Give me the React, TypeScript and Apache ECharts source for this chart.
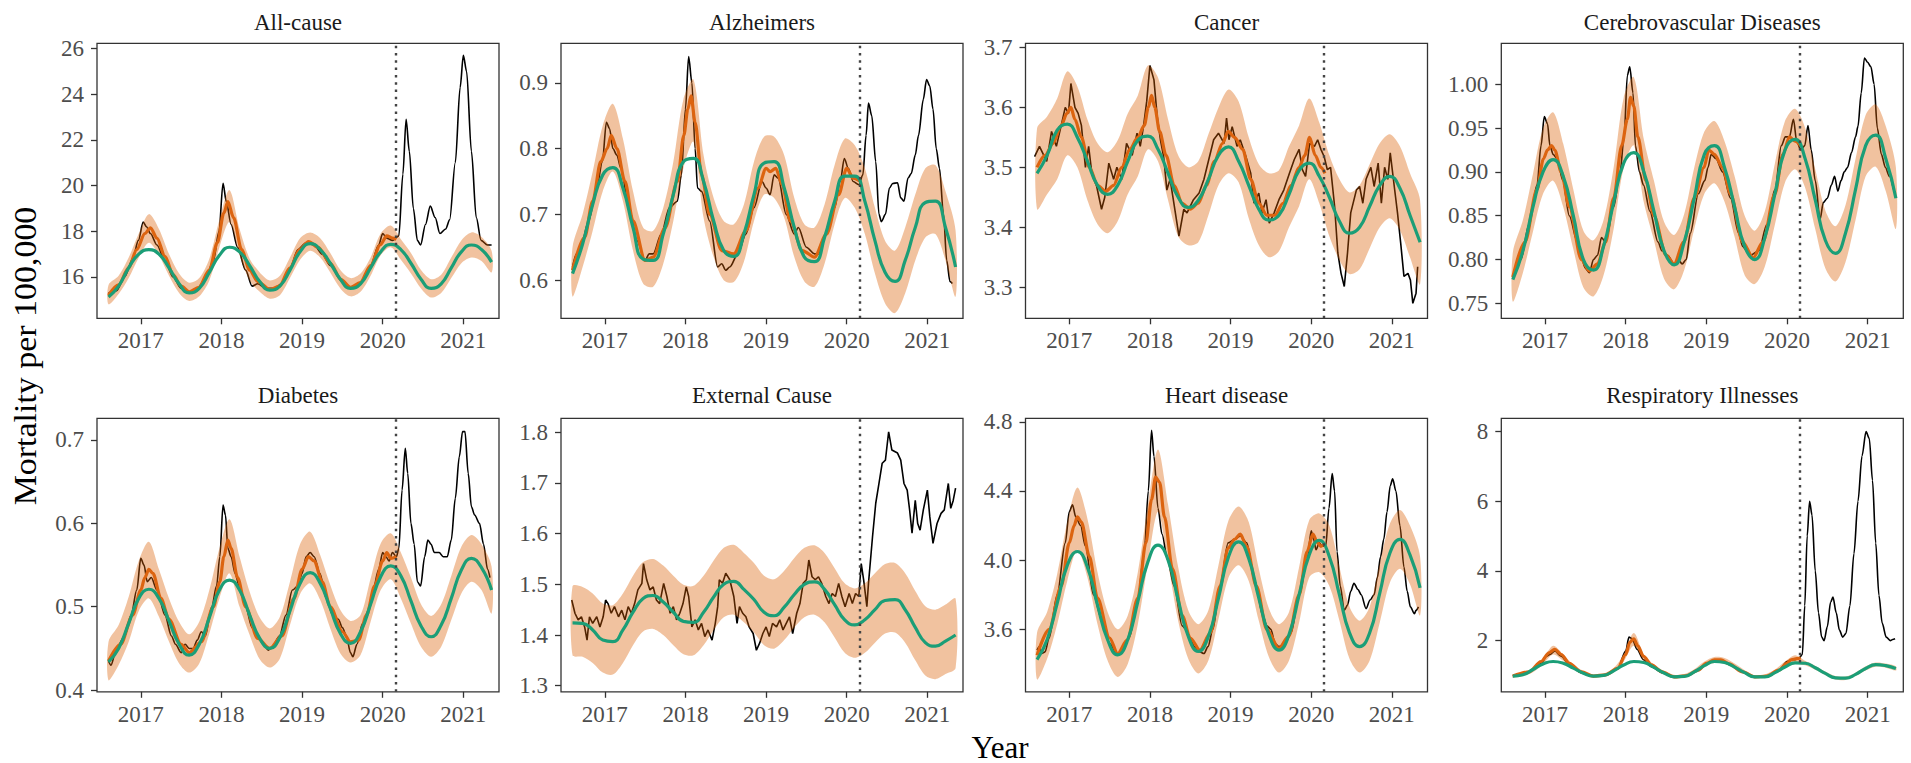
import React, { useEffect, useRef } from 'react';
import * as echarts from 'echarts';

type Pt = [number, number];

// Time grid (decimal years) shared by the seasonal baseline and its interval band
const seasonYears = [
  2016.6, 2016.725, 2016.85, 2016.975, 2017.1, 2017.225, 2017.35, 2017.475, 2017.6, 2017.725,
  2017.85, 2017.975, 2018.1, 2018.225, 2018.35, 2018.475, 2018.6, 2018.725, 2018.85, 2018.975,
  2019.1, 2019.225, 2019.35, 2019.475, 2019.6, 2019.725, 2019.85, 2019.975, 2020.1, 2020.225,
  2020.35, 2020.475, 2020.6, 2020.725, 2020.85, 2020.975, 2021.1, 2021.225, 2021.35,
];
const yearTicks = [2017, 2018, 2019, 2020, 2021];
const pandemicStart = 2020.165;
const yearMin = 2016.457;
const yearMax = 2021.442;

// ---------- All-cause ----------
const allCauseObserved: Pt[] = [
  [2016.6, 15.3], [2016.65, 15.35], [2016.7, 15.4], [2016.8, 16.0], [2016.9, 16.8], [2016.97, 17.6],
  [2017.03, 18.4], [2017.07, 18.2], [2017.12, 17.9], [2017.2, 17.4], [2017.3, 16.7], [2017.4, 16.0],
  [2017.5, 15.5], [2017.6, 15.3], [2017.7, 15.5], [2017.8, 15.9], [2017.9, 16.7], [2017.97, 18.0],
  [2018.02, 20.1], [2018.06, 19.3], [2018.12, 18.3], [2018.2, 17.3], [2018.3, 16.3], [2018.38, 15.6],
  [2018.45, 15.7], [2018.55, 15.5], [2018.65, 15.5], [2018.75, 15.7], [2018.85, 16.4], [2018.95, 17.2],
  [2019.05, 17.5], [2019.15, 17.4], [2019.25, 17.0], [2019.35, 16.5], [2019.5, 15.8], [2019.6, 15.55],
  [2019.72, 15.7], [2019.85, 16.5], [2019.95, 17.4], [2020.0, 17.9], [2020.05, 17.7], [2020.12, 17.6],
  [2020.2, 17.8], [2020.25, 20.5], [2020.29, 22.9], [2020.33, 21.5], [2020.38, 19.0], [2020.43, 17.6],
  [2020.47, 17.4], [2020.53, 18.3], [2020.59, 19.1], [2020.65, 18.6], [2020.71, 17.9], [2020.78, 18.1],
  [2020.83, 18.5], [2020.9, 21.0], [2020.96, 24.3], [2021.0, 25.7], [2021.04, 25.0], [2021.1, 21.5],
  [2021.16, 18.6], [2021.22, 17.6], [2021.3, 17.4], [2021.35, 17.4],
];
const allCauseFitted: Pt[] = [
  [2016.6, 15.2], [2016.725, 15.65], [2016.85, 16.4], [2016.95, 17.2], [2017.05, 17.9], [2017.12, 18.15],
  [2017.2, 17.7], [2017.3, 16.9], [2017.4, 16.1], [2017.5, 15.6], [2017.6, 15.35], [2017.72, 15.55],
  [2017.85, 16.3], [2017.95, 17.5], [2018.03, 18.8], [2018.08, 19.3], [2018.15, 18.6], [2018.25, 17.2],
  [2018.35, 16.3], [2018.45, 15.8], [2018.6, 15.45], [2018.72, 15.6], [2018.85, 16.4], [2018.97, 17.2],
  [2019.08, 17.55], [2019.2, 17.3], [2019.35, 16.6], [2019.48, 15.9], [2019.6, 15.55], [2019.72, 15.75],
  [2019.85, 16.5], [2019.97, 17.4], [2020.05, 17.8], [2020.12, 17.7], [2020.17, 17.65],
];
const allCauseExpected = [
  15.12, 15.6, 16.4, 17.0, 17.2, 17.0, 16.4, 15.7, 15.3, 15.5, 16.2, 16.95, 17.3, 17.1, 16.5, 15.8,
  15.42, 15.6, 16.3, 17.1, 17.46, 17.2, 16.6, 15.9, 15.5, 15.7, 16.4, 17.1, 17.43, 17.2, 16.6, 15.9,
  15.5, 15.7, 16.4, 17.1, 17.4, 17.2, 16.65,
];
const allCauseLower = [
  14.8, 15.25, 15.95, 16.85, 17.5, 16.95, 16.05, 15.3, 14.95, 15.15, 15.85, 17.3, 18.4, 16.95, 15.85,
  15.35, 15.05, 15.2, 15.95, 16.75, 17.15, 16.85, 16.2, 15.5, 15.15, 15.35, 16.05, 16.95, 17.3, 16.75,
  16.15, 15.5, 15.1, 15.3, 15.95, 16.6, 16.85, 16.7, 16.2,
];
const allCauseUpper = [
  15.65, 16.05, 16.85, 17.9, 18.75, 18.1, 17.0, 16.15, 15.75, 15.95, 16.8, 18.5, 19.8, 18.1, 16.8,
  16.2, 15.85, 16.05, 16.85, 17.7, 17.95, 17.7, 17.05, 16.3, 15.95, 16.15, 16.85, 17.9, 18.25, 17.65,
  17.05, 16.3, 15.9, 16.1, 16.85, 17.6, 17.95, 17.75, 17.15,
];
const allCauseTicks = [16, 18, 20, 22, 24, 26];

// ---------- Alzheimers ----------
const alzObserved: Pt[] = [
  [2016.6, 0.62], [2016.65, 0.64], [2016.7, 0.65], [2016.8, 0.69], [2016.9, 0.74], [2016.97, 0.78],
  [2017.02, 0.84], [2017.06, 0.83], [2017.1, 0.8], [2017.15, 0.79], [2017.2, 0.77], [2017.3, 0.71],
  [2017.4, 0.66], [2017.5, 0.63], [2017.55, 0.64], [2017.6, 0.64], [2017.7, 0.67], [2017.8, 0.71],
  [2017.9, 0.72], [2017.95, 0.76], [2018.0, 0.86], [2018.04, 0.94], [2018.08, 0.9], [2018.12, 0.8],
  [2018.15, 0.74], [2018.2, 0.735], [2018.3, 0.69], [2018.4, 0.62], [2018.45, 0.625], [2018.5, 0.615],
  [2018.55, 0.62], [2018.65, 0.64], [2018.75, 0.67], [2018.85, 0.71], [2018.95, 0.75], [2019.0, 0.74],
  [2019.05, 0.73], [2019.1, 0.76], [2019.15, 0.755], [2019.25, 0.7], [2019.35, 0.67], [2019.4, 0.68],
  [2019.5, 0.65], [2019.6, 0.64], [2019.65, 0.64], [2019.75, 0.67], [2019.85, 0.71], [2019.92, 0.75],
  [2019.97, 0.785], [2020.02, 0.77], [2020.08, 0.75], [2020.15, 0.745], [2020.2, 0.76], [2020.24, 0.82],
  [2020.27, 0.869], [2020.31, 0.85], [2020.36, 0.78], [2020.4, 0.7], [2020.43, 0.689], [2020.48, 0.7],
  [2020.53, 0.74], [2020.57, 0.747], [2020.63, 0.748], [2020.67, 0.725], [2020.71, 0.72], [2020.76, 0.755],
  [2020.8, 0.762], [2020.85, 0.79], [2020.89, 0.82], [2020.95, 0.875], [2020.99, 0.905], [2021.03, 0.895],
  [2021.07, 0.86], [2021.11, 0.8], [2021.15, 0.77], [2021.2, 0.7], [2021.24, 0.63], [2021.28, 0.598],
  [2021.31, 0.595],
];
const alzFitted: Pt[] = [
  [2016.6, 0.615], [2016.75, 0.665], [2016.85, 0.72], [2016.95, 0.78], [2017.03, 0.8], [2017.08, 0.82],
  [2017.15, 0.8], [2017.25, 0.75], [2017.35, 0.69], [2017.5, 0.63], [2017.6, 0.635], [2017.75, 0.68],
  [2017.9, 0.75], [2017.98, 0.82], [2018.03, 0.86], [2018.07, 0.88], [2018.12, 0.84], [2018.2, 0.76],
  [2018.3, 0.7], [2018.45, 0.645], [2018.6, 0.64], [2018.75, 0.675], [2018.9, 0.74], [2019.0, 0.77],
  [2019.05, 0.765], [2019.12, 0.77], [2019.2, 0.745], [2019.3, 0.69], [2019.45, 0.645], [2019.6, 0.635],
  [2019.75, 0.67], [2019.9, 0.73], [2020.0, 0.77], [2020.08, 0.755], [2020.17, 0.75],
];
const alzExpected = [
  0.61, 0.655, 0.715, 0.76, 0.771, 0.74, 0.68, 0.632, 0.63, 0.67, 0.73, 0.78, 0.785, 0.75, 0.69,
  0.645, 0.636, 0.67, 0.73, 0.778, 0.78, 0.74, 0.68, 0.635, 0.628, 0.665, 0.72, 0.758, 0.758, 0.72,
  0.66, 0.612, 0.598, 0.63, 0.68, 0.718, 0.72, 0.68, 0.62,
];
const alzLower = [
  0.575, 0.62, 0.675, 0.735, 0.765, 0.72, 0.645, 0.595, 0.59, 0.625, 0.69, 0.77, 0.81, 0.695, 0.635,
  0.6, 0.597, 0.628, 0.69, 0.73, 0.725, 0.695, 0.635, 0.598, 0.59, 0.625, 0.685, 0.725, 0.71, 0.67,
  0.61, 0.565, 0.55, 0.58, 0.63, 0.665, 0.67, 0.63, 0.575,
];
const alzUpper = [
  0.65, 0.7, 0.765, 0.835, 0.868, 0.815, 0.735, 0.68, 0.675, 0.71, 0.78, 0.875, 0.905, 0.79, 0.725,
  0.69, 0.685, 0.715, 0.78, 0.818, 0.818, 0.79, 0.725, 0.685, 0.68, 0.715, 0.775, 0.815, 0.805, 0.77,
  0.71, 0.66, 0.645, 0.68, 0.73, 0.77, 0.775, 0.735, 0.675,
];
const alzTicks = [0.6, 0.7, 0.8, 0.9];

// ---------- Cancer ----------
const cancerObserved: Pt[] = [
  [2016.57, 3.518], [2016.63, 3.535], [2016.72, 3.51], [2016.78, 3.56], [2016.84, 3.535], [2016.9, 3.57],
  [2016.95, 3.6], [2016.99, 3.59], [2017.02, 3.64], [2017.07, 3.6], [2017.11, 3.59], [2017.15, 3.57],
  [2017.2, 3.5], [2017.24, 3.535], [2017.28, 3.49], [2017.34, 3.468], [2017.4, 3.43], [2017.44, 3.45],
  [2017.49, 3.507], [2017.55, 3.48], [2017.59, 3.5], [2017.65, 3.48], [2017.71, 3.54], [2017.78, 3.52],
  [2017.84, 3.557], [2017.88, 3.535], [2017.92, 3.568], [2017.96, 3.61], [2018.0, 3.67], [2018.05, 3.646],
  [2018.09, 3.585], [2018.13, 3.546], [2018.17, 3.518], [2018.21, 3.462], [2018.25, 3.48], [2018.29, 3.446],
  [2018.36, 3.385], [2018.42, 3.43], [2018.46, 3.424], [2018.54, 3.446], [2018.61, 3.457], [2018.67, 3.48],
  [2018.73, 3.513], [2018.79, 3.546], [2018.85, 3.557], [2018.92, 3.54], [2018.95, 3.582], [2018.98, 3.546],
  [2019.02, 3.568], [2019.08, 3.535], [2019.12, 3.546], [2019.19, 3.518], [2019.25, 3.49], [2019.29, 3.44],
  [2019.35, 3.457], [2019.39, 3.424], [2019.44, 3.446], [2019.48, 3.407], [2019.54, 3.424], [2019.6, 3.446],
  [2019.66, 3.462], [2019.73, 3.49], [2019.79, 3.513], [2019.85, 3.53], [2019.89, 3.496], [2019.93, 3.485],
  [2019.98, 3.54], [2020.04, 3.535], [2020.08, 3.546], [2020.12, 3.53], [2020.16, 3.518], [2020.2, 3.496],
  [2020.24, 3.5], [2020.29, 3.435], [2020.33, 3.357], [2020.37, 3.323], [2020.41, 3.301], [2020.45, 3.357],
  [2020.49, 3.424], [2020.56, 3.462], [2020.6, 3.468], [2020.64, 3.44], [2020.68, 3.48], [2020.74, 3.5],
  [2020.78, 3.468], [2020.83, 3.507], [2020.87, 3.44], [2020.91, 3.5], [2020.95, 3.48], [2020.98, 3.524],
  [2021.03, 3.468], [2021.07, 3.424], [2021.11, 3.373], [2021.15, 3.318], [2021.2, 3.323], [2021.23, 3.312],
  [2021.26, 3.273], [2021.3, 3.29], [2021.32, 3.334],
];
const cancerFitted: Pt[] = [
  [2016.6, 3.5], [2016.7, 3.52], [2016.8, 3.54], [2016.9, 3.57], [2016.97, 3.59], [2017.02, 3.6],
  [2017.07, 3.58], [2017.15, 3.55], [2017.25, 3.5], [2017.35, 3.47], [2017.45, 3.46], [2017.55, 3.47],
  [2017.65, 3.5], [2017.75, 3.53], [2017.85, 3.55], [2017.93, 3.57], [2017.98, 3.6], [2018.02, 3.62],
  [2018.06, 3.6], [2018.12, 3.56], [2018.2, 3.52], [2018.3, 3.47], [2018.4, 3.44], [2018.5, 3.43],
  [2018.6, 3.44], [2018.7, 3.47], [2018.8, 3.51], [2018.9, 3.54], [2018.97, 3.56], [2019.05, 3.55],
  [2019.15, 3.53], [2019.25, 3.48], [2019.35, 3.44], [2019.45, 3.42], [2019.55, 3.42], [2019.65, 3.44],
  [2019.75, 3.47], [2019.85, 3.5], [2019.92, 3.52], [2019.98, 3.55], [2020.05, 3.52], [2020.12, 3.5],
  [2020.17, 3.49],
];
const cancerExpected = [
  3.49, 3.52, 3.562, 3.572, 3.55, 3.51, 3.47, 3.455, 3.47, 3.51, 3.545, 3.552, 3.53, 3.49, 3.45,
  3.433, 3.445, 3.48, 3.52, 3.534, 3.51, 3.47, 3.43, 3.412, 3.42, 3.455, 3.495, 3.507, 3.485, 3.45,
  3.41, 3.39, 3.4, 3.435, 3.47, 3.485, 3.465, 3.42, 3.375,
];
const cancerLower = [
  3.43, 3.455, 3.48, 3.52, 3.5, 3.445, 3.405, 3.39, 3.41, 3.455, 3.485, 3.53, 3.51, 3.445, 3.385,
  3.37, 3.375, 3.42, 3.47, 3.49, 3.475, 3.415, 3.37, 3.35, 3.36, 3.4, 3.435, 3.48, 3.44, 3.385,
  3.345, 3.322, 3.33, 3.365, 3.4, 3.415, 3.395, 3.35, 3.305,
];
const cancerUpper = [
  3.565, 3.585, 3.615, 3.66, 3.635, 3.58, 3.54, 3.525, 3.545, 3.59, 3.62, 3.67, 3.65, 3.58, 3.52,
  3.5, 3.51, 3.555, 3.6, 3.63, 3.61, 3.55, 3.505, 3.49, 3.495, 3.535, 3.57, 3.615, 3.575, 3.52,
  3.48, 3.458, 3.47, 3.505, 3.54, 3.555, 3.535, 3.49, 3.445,
];
const cancerTicks = [3.3, 3.4, 3.5, 3.6, 3.7];

// ---------- Cerebrovascular Diseases ----------
const cerebroObserved: Pt[] = [
  [2016.6, 0.78], [2016.7, 0.8], [2016.8, 0.84], [2016.9, 0.885], [2016.95, 0.93], [2016.99, 0.963],
  [2017.03, 0.955], [2017.06, 0.93], [2017.1, 0.92], [2017.15, 0.915], [2017.22, 0.89], [2017.3, 0.85],
  [2017.4, 0.82], [2017.5, 0.79], [2017.55, 0.785], [2017.6, 0.8], [2017.65, 0.805], [2017.7, 0.825],
  [2017.75, 0.82], [2017.85, 0.86], [2017.93, 0.9], [2017.98, 0.94], [2018.02, 1.01], [2018.05, 1.02],
  [2018.09, 0.99], [2018.12, 0.93], [2018.17, 0.9], [2018.22, 0.885], [2018.3, 0.855], [2018.4, 0.82],
  [2018.45, 0.81], [2018.52, 0.805], [2018.6, 0.795], [2018.65, 0.8], [2018.7, 0.795], [2018.75, 0.8],
  [2018.8, 0.83], [2018.9, 0.875], [2018.98, 0.89], [2019.02, 0.905], [2019.06, 0.92], [2019.12, 0.915],
  [2019.2, 0.9], [2019.3, 0.87], [2019.4, 0.83], [2019.45, 0.815], [2019.5, 0.81], [2019.55, 0.805],
  [2019.65, 0.81], [2019.75, 0.84], [2019.85, 0.88], [2019.93, 0.93], [2019.98, 0.94], [2020.03, 0.94],
  [2020.08, 0.96], [2020.12, 0.935], [2020.17, 0.925], [2020.22, 0.93], [2020.26, 0.953], [2020.3, 0.925],
  [2020.35, 0.89], [2020.41, 0.846], [2020.45, 0.865], [2020.5, 0.87], [2020.55, 0.885], [2020.59, 0.895],
  [2020.63, 0.878], [2020.67, 0.89], [2020.71, 0.9], [2020.75, 0.905], [2020.8, 0.922], [2020.85, 0.94],
  [2020.88, 0.952], [2020.92, 0.99], [2020.96, 1.03], [2021.0, 1.025], [2021.04, 1.02], [2021.08, 1.0],
  [2021.12, 0.95], [2021.17, 0.92], [2021.22, 0.905], [2021.27, 0.895], [2021.32, 0.88],
];
const cerebroFitted: Pt[] = [
  [2016.6, 0.78], [2016.75, 0.82], [2016.9, 0.88], [2016.98, 0.915], [2017.03, 0.925], [2017.08, 0.93],
  [2017.12, 0.925], [2017.2, 0.9], [2017.3, 0.86], [2017.45, 0.8], [2017.55, 0.787], [2017.65, 0.795],
  [2017.75, 0.82], [2017.85, 0.87], [2017.95, 0.93], [2018.02, 0.96], [2018.06, 0.985], [2018.1, 0.975],
  [2018.15, 0.94], [2018.25, 0.89], [2018.35, 0.85], [2018.5, 0.805], [2018.6, 0.795], [2018.72, 0.82],
  [2018.85, 0.87], [2018.97, 0.905], [2019.03, 0.925], [2019.1, 0.92], [2019.2, 0.905], [2019.3, 0.875],
  [2019.45, 0.82], [2019.58, 0.802], [2019.7, 0.82], [2019.85, 0.875], [2019.95, 0.92], [2020.03, 0.94],
  [2020.1, 0.935], [2020.17, 0.93],
];
const cerebroExpected = [
  0.777, 0.81, 0.86, 0.9, 0.914, 0.895, 0.85, 0.8, 0.788, 0.815, 0.865, 0.91, 0.922, 0.9, 0.855,
  0.81, 0.794, 0.82, 0.87, 0.92, 0.93, 0.905, 0.86, 0.815, 0.8, 0.825, 0.875, 0.925, 0.937, 0.915,
  0.868, 0.822, 0.807, 0.83, 0.88, 0.93, 0.942, 0.915, 0.87,
];
const cerebroLower = [
  0.752, 0.785, 0.832, 0.875, 0.89, 0.86, 0.812, 0.768, 0.758, 0.782, 0.835, 0.905, 0.93, 0.865, 0.822,
  0.778, 0.766, 0.788, 0.835, 0.875, 0.887, 0.866, 0.826, 0.782, 0.772, 0.792, 0.84, 0.888, 0.903, 0.882,
  0.835, 0.79, 0.775, 0.797, 0.845, 0.895, 0.906, 0.878, 0.835,
];
const cerebroUpper = [
  0.808, 0.845, 0.898, 0.95, 0.968, 0.932, 0.88, 0.833, 0.822, 0.845, 0.905, 0.985, 1.008, 0.937, 0.89,
  0.843, 0.828, 0.852, 0.905, 0.946, 0.958, 0.935, 0.895, 0.85, 0.833, 0.855, 0.91, 0.958, 0.972, 0.95,
  0.903, 0.856, 0.838, 0.862, 0.915, 0.965, 0.977, 0.952, 0.905,
];
const cerebroTicks = [0.75, 0.8, 0.85, 0.9, 0.95, 1.0];

// ---------- Diabetes ----------
const diabetesObserved: Pt[] = [
  [2016.6, 0.435], [2016.63, 0.43], [2016.7, 0.45], [2016.8, 0.465], [2016.88, 0.49], [2016.95, 0.52],
  [2017.0, 0.558], [2017.04, 0.55], [2017.08, 0.53], [2017.13, 0.535], [2017.2, 0.52], [2017.3, 0.49],
  [2017.38, 0.465], [2017.43, 0.455], [2017.5, 0.445], [2017.55, 0.455], [2017.6, 0.45], [2017.65, 0.45],
  [2017.7, 0.46], [2017.75, 0.47], [2017.8, 0.465], [2017.88, 0.5], [2017.94, 0.525], [2017.98, 0.56],
  [2018.02, 0.622], [2018.05, 0.61], [2018.08, 0.57], [2018.12, 0.56], [2018.17, 0.54], [2018.22, 0.525],
  [2018.3, 0.5], [2018.38, 0.475], [2018.45, 0.465], [2018.52, 0.455], [2018.58, 0.448], [2018.63, 0.452],
  [2018.72, 0.465], [2018.8, 0.49], [2018.88, 0.52], [2018.95, 0.525], [2019.0, 0.54], [2019.05, 0.56],
  [2019.1, 0.565], [2019.15, 0.56], [2019.22, 0.54], [2019.3, 0.51], [2019.38, 0.49], [2019.45, 0.485],
  [2019.5, 0.475], [2019.55, 0.465], [2019.6, 0.445], [2019.63, 0.44], [2019.68, 0.455], [2019.75, 0.48],
  [2019.82, 0.495], [2019.88, 0.52], [2019.95, 0.545], [2020.0, 0.565], [2020.04, 0.56], [2020.08, 0.555],
  [2020.12, 0.565], [2020.17, 0.56], [2020.2, 0.57], [2020.24, 0.64], [2020.28, 0.69], [2020.31, 0.66],
  [2020.35, 0.6], [2020.39, 0.575], [2020.43, 0.53], [2020.47, 0.525], [2020.52, 0.56], [2020.56, 0.58],
  [2020.6, 0.575], [2020.64, 0.565], [2020.7, 0.565], [2020.75, 0.56], [2020.8, 0.56], [2020.85, 0.58],
  [2020.9, 0.63], [2020.95, 0.68], [2020.99, 0.71], [2021.02, 0.71], [2021.06, 0.66], [2021.1, 0.62],
  [2021.14, 0.61], [2021.2, 0.6], [2021.25, 0.575], [2021.3, 0.545], [2021.33, 0.535],
];
const diabetesFitted: Pt[] = [
  [2016.6, 0.435], [2016.75, 0.455], [2016.9, 0.49], [2017.0, 0.52], [2017.05, 0.535], [2017.1, 0.545],
  [2017.15, 0.54], [2017.25, 0.51], [2017.35, 0.485], [2017.5, 0.455], [2017.6, 0.445], [2017.75, 0.458],
  [2017.9, 0.5], [2017.98, 0.53], [2018.03, 0.56], [2018.08, 0.58], [2018.12, 0.57], [2018.2, 0.535],
  [2018.3, 0.5], [2018.45, 0.462], [2018.6, 0.45], [2018.75, 0.465], [2018.9, 0.51], [2019.0, 0.545],
  [2019.08, 0.56], [2019.15, 0.555], [2019.25, 0.53], [2019.35, 0.5], [2019.5, 0.47], [2019.6, 0.458],
  [2019.7, 0.46], [2019.8, 0.49], [2019.9, 0.525], [2020.0, 0.555], [2020.05, 0.565], [2020.1, 0.558],
  [2020.17, 0.56],
];
const diabetesExpected = [
  0.434, 0.45, 0.48, 0.51, 0.521, 0.51, 0.483, 0.455, 0.442, 0.455, 0.487, 0.52, 0.532, 0.52, 0.49,
  0.462, 0.45, 0.463, 0.495, 0.528, 0.541, 0.528, 0.498, 0.468, 0.456, 0.47, 0.503, 0.536, 0.549, 0.537,
  0.507, 0.477, 0.464, 0.478, 0.51, 0.544, 0.558, 0.547, 0.52,
];
const diabetesLower = [
  0.412, 0.43, 0.458, 0.495, 0.51, 0.488, 0.458, 0.432, 0.421, 0.432, 0.468, 0.51, 0.54, 0.5, 0.466,
  0.437, 0.427, 0.438, 0.478, 0.515, 0.528, 0.508, 0.474, 0.444, 0.433, 0.442, 0.482, 0.52, 0.533, 0.51,
  0.48, 0.452, 0.44, 0.452, 0.484, 0.516, 0.53, 0.52, 0.492,
];
const diabetesUpper = [
  0.458, 0.478, 0.512, 0.555, 0.578, 0.545, 0.51, 0.482, 0.467, 0.482, 0.52, 0.57, 0.605, 0.56, 0.518,
  0.487, 0.474, 0.488, 0.53, 0.575, 0.59, 0.562, 0.526, 0.496, 0.483, 0.49, 0.534, 0.576, 0.588, 0.565,
  0.535, 0.503, 0.489, 0.503, 0.537, 0.572, 0.586, 0.575, 0.548,
];
const diabetesTicks = [0.4, 0.5, 0.6, 0.7];

// ---------- External Cause ----------
const externalObserved: Pt[] = [
  [2016.59, 1.469], [2016.63, 1.443], [2016.67, 1.43], [2016.71, 1.436], [2016.75, 1.416], [2016.78, 1.39],
  [2016.81, 1.436], [2016.85, 1.423], [2016.9, 1.436], [2016.94, 1.416], [2016.98, 1.436], [2017.01, 1.469],
  [2017.04, 1.462], [2017.08, 1.443], [2017.12, 1.456], [2017.17, 1.436], [2017.21, 1.449], [2017.25, 1.43],
  [2017.29, 1.456], [2017.33, 1.443], [2017.37, 1.462], [2017.41, 1.489], [2017.46, 1.502], [2017.48, 1.541],
  [2017.52, 1.509], [2017.56, 1.489], [2017.6, 1.495], [2017.64, 1.469], [2017.68, 1.462], [2017.73, 1.502],
  [2017.77, 1.476], [2017.81, 1.443], [2017.85, 1.456], [2017.89, 1.43], [2017.93, 1.443], [2017.97, 1.462],
  [2018.01, 1.495], [2018.04, 1.476], [2018.08, 1.416], [2018.12, 1.43], [2018.16, 1.41], [2018.2, 1.423],
  [2018.24, 1.397], [2018.28, 1.41], [2018.33, 1.39], [2018.37, 1.423], [2018.4, 1.456], [2018.42, 1.509],
  [2018.46, 1.502], [2018.5, 1.522], [2018.55, 1.509], [2018.6, 1.476], [2018.64, 1.423], [2018.67, 1.456],
  [2018.71, 1.443], [2018.75, 1.436], [2018.79, 1.416], [2018.84, 1.403], [2018.88, 1.37], [2018.92, 1.384],
  [2018.96, 1.403], [2019.0, 1.416], [2019.04, 1.397], [2019.08, 1.423], [2019.13, 1.416], [2019.17, 1.43],
  [2019.21, 1.41], [2019.25, 1.423], [2019.29, 1.436], [2019.33, 1.403], [2019.38, 1.443], [2019.42, 1.462],
  [2019.46, 1.502], [2019.5, 1.509], [2019.53, 1.548], [2019.57, 1.515], [2019.61, 1.509], [2019.65, 1.515],
  [2019.69, 1.502], [2019.74, 1.476], [2019.78, 1.462], [2019.82, 1.482], [2019.86, 1.476], [2019.9, 1.502],
  [2019.94, 1.476], [2019.98, 1.456], [2020.03, 1.482], [2020.07, 1.462], [2020.11, 1.482], [2020.15, 1.476],
  [2020.18, 1.541], [2020.21, 1.509], [2020.25, 1.456], [2020.27, 1.502], [2020.32, 1.594], [2020.36, 1.66],
  [2020.4, 1.699], [2020.44, 1.739], [2020.48, 1.745], [2020.52, 1.801], [2020.56, 1.765], [2020.63, 1.759],
  [2020.67, 1.745], [2020.71, 1.699], [2020.75, 1.686], [2020.78, 1.647], [2020.81, 1.601], [2020.85, 1.666],
  [2020.88, 1.62], [2020.91, 1.607], [2020.95, 1.647], [2021.0, 1.686], [2021.03, 1.634], [2021.07, 1.581],
  [2021.12, 1.62], [2021.17, 1.64], [2021.21, 1.647], [2021.26, 1.699], [2021.29, 1.65], [2021.32, 1.665],
  [2021.35, 1.69],
];
const externalFitted: Pt[] = [];
const externalExpected = [
  1.424, 1.423, 1.41, 1.39, 1.387, 1.41, 1.445, 1.472, 1.478, 1.465, 1.445, 1.427, 1.425, 1.445, 1.475,
  1.5, 1.506, 1.49, 1.47, 1.445, 1.438, 1.455, 1.48, 1.5, 1.505, 1.49, 1.46, 1.43, 1.42, 1.43,
  1.45, 1.468, 1.47, 1.45, 1.415, 1.385, 1.378, 1.388, 1.4,
];
const externalLower = [
  1.36, 1.357, 1.345, 1.326, 1.322, 1.345, 1.38, 1.407, 1.412, 1.4, 1.38, 1.362, 1.36, 1.38, 1.41,
  1.435, 1.44, 1.425, 1.405, 1.38, 1.373, 1.39, 1.415, 1.435, 1.44, 1.425, 1.395, 1.365, 1.355, 1.365,
  1.385, 1.403, 1.405, 1.385, 1.35, 1.32, 1.313, 1.323, 1.335,
];
const externalUpper = [
  1.496, 1.495, 1.482, 1.462, 1.459, 1.482, 1.517, 1.544, 1.55, 1.537, 1.517, 1.499, 1.497, 1.517, 1.547,
  1.572, 1.578, 1.562, 1.542, 1.517, 1.51, 1.527, 1.552, 1.572, 1.577, 1.562, 1.532, 1.502, 1.492, 1.502,
  1.522, 1.54, 1.542, 1.522, 1.487, 1.457, 1.45, 1.46, 1.472,
];
const externalTicks = [1.3, 1.4, 1.5, 1.6, 1.7, 1.8];

// ---------- Heart disease ----------
const heartObserved: Pt[] = [
  [2016.6, 3.48], [2016.63, 3.5], [2016.66, 3.46], [2016.7, 3.47], [2016.75, 3.55], [2016.85, 3.8],
  [2016.95, 4.1], [2017.0, 4.28], [2017.04, 4.32], [2017.08, 4.25], [2017.14, 4.2], [2017.2, 4.08],
  [2017.3, 3.8], [2017.4, 3.66], [2017.5, 3.52], [2017.6, 3.45], [2017.68, 3.5], [2017.75, 3.56],
  [2017.85, 3.78], [2017.93, 4.05], [2017.98, 4.4], [2018.02, 4.75], [2018.05, 4.6], [2018.1, 4.3],
  [2018.15, 4.15], [2018.22, 4.0], [2018.3, 3.85], [2018.4, 3.62], [2018.45, 3.6], [2018.5, 3.55],
  [2018.55, 3.5], [2018.62, 3.47], [2018.67, 3.46], [2018.72, 3.5], [2018.78, 3.6], [2018.87, 3.85],
  [2018.97, 4.1], [2019.05, 4.12], [2019.12, 4.14], [2019.2, 4.1], [2019.3, 3.88], [2019.4, 3.68],
  [2019.45, 3.62], [2019.5, 3.6], [2019.55, 3.52], [2019.6, 3.5], [2019.68, 3.52], [2019.75, 3.58],
  [2019.85, 3.8], [2019.95, 4.0], [2020.0, 4.17], [2020.03, 4.12], [2020.06, 4.06], [2020.1, 4.1],
  [2020.14, 4.08], [2020.18, 4.08], [2020.22, 4.3], [2020.26, 4.5], [2020.29, 4.4], [2020.32, 4.05],
  [2020.36, 3.85], [2020.41, 3.71], [2020.45, 3.74], [2020.49, 3.82], [2020.53, 3.866], [2020.58, 3.83],
  [2020.62, 3.8], [2020.68, 3.72], [2020.73, 3.77], [2020.78, 3.8], [2020.82, 3.9], [2020.86, 4.02],
  [2020.9, 4.12], [2020.94, 4.28], [2020.98, 4.43], [2021.01, 4.47], [2021.05, 4.4], [2021.1, 4.2],
  [2021.15, 3.96], [2021.19, 3.82], [2021.23, 3.73], [2021.28, 3.69], [2021.3, 3.71], [2021.33, 3.73],
];
const heartFitted: Pt[] = [
  [2016.6, 3.45], [2016.75, 3.6], [2016.9, 3.85], [2017.0, 4.1], [2017.06, 4.2], [2017.1, 4.25],
  [2017.15, 4.22], [2017.25, 4.02], [2017.35, 3.78], [2017.5, 3.55], [2017.6, 3.46], [2017.72, 3.54],
  [2017.85, 3.78], [2017.95, 4.1], [2018.02, 4.35], [2018.07, 4.48], [2018.12, 4.45], [2018.18, 4.25],
  [2018.28, 3.95], [2018.4, 3.68], [2018.5, 3.55], [2018.62, 3.48], [2018.75, 3.58], [2018.87, 3.85],
  [2018.97, 4.07], [2019.05, 4.12], [2019.12, 4.15], [2019.2, 4.08], [2019.32, 3.85], [2019.45, 3.6],
  [2019.6, 3.49], [2019.72, 3.56], [2019.85, 3.8], [2019.95, 4.05], [2020.02, 4.15], [2020.08, 4.1],
  [2020.12, 4.08], [2020.17, 4.1],
];
const heartExpected = [
  3.425, 3.54, 3.75, 3.97, 4.05, 3.96, 3.74, 3.54, 3.453, 3.54, 3.76, 3.99, 4.087, 4.0, 3.77,
  3.56, 3.472, 3.56, 3.78, 4.02, 4.106, 4.01, 3.78, 3.57, 3.48, 3.57, 3.8, 4.03, 4.115, 4.02,
  3.8, 3.58, 3.5, 3.58, 3.81, 4.04, 4.12, 4.03, 3.84,
];
const heartLower = [
  3.31, 3.43, 3.63, 3.88, 4.06, 3.9, 3.63, 3.42, 3.325, 3.4, 3.63, 3.98, 4.28, 3.98, 3.65,
  3.43, 3.345, 3.42, 3.66, 3.9, 3.97, 3.88, 3.65, 3.44, 3.35, 3.42, 3.64, 3.9, 3.93, 3.85,
  3.65, 3.43, 3.35, 3.42, 3.64, 3.87, 3.95, 3.86, 3.68,
];
const heartUpper = [
  3.58, 3.7, 3.92, 4.22, 4.42, 4.24, 3.93, 3.7, 3.6, 3.68, 3.93, 4.32, 4.64, 4.32, 3.96,
  3.71, 3.63, 3.71, 3.97, 4.23, 4.31, 4.22, 3.95, 3.72, 3.63, 3.7, 3.96, 4.23, 4.27, 4.2,
  3.96, 3.73, 3.65, 3.73, 3.98, 4.21, 4.29, 4.2, 4.02,
];
const heartTicks = [3.6, 4.0, 4.4, 4.8];

// ---------- Respiratory Illnesses ----------
const respObserved: Pt[] = [
  [2016.6, 0.98], [2016.8, 1.1], [2016.95, 1.35], [2017.02, 1.55], [2017.06, 1.6], [2017.12, 1.7],
  [2017.2, 1.55], [2017.3, 1.3], [2017.45, 1.08], [2017.6, 0.98], [2017.75, 1.0], [2017.9, 1.2],
  [2018.0, 1.7], [2018.04, 2.1], [2018.08, 2.05], [2018.14, 1.75], [2018.22, 1.45], [2018.32, 1.25],
  [2018.45, 1.08], [2018.6, 0.96], [2018.75, 0.99], [2018.9, 1.15], [2019.0, 1.35], [2019.1, 1.42],
  [2019.2, 1.42], [2019.3, 1.3], [2019.45, 1.1], [2019.6, 0.96], [2019.75, 0.98], [2019.9, 1.15],
  [2020.0, 1.4], [2020.05, 1.45], [2020.1, 1.45], [2020.15, 1.5], [2020.19, 1.6], [2020.22, 3.0],
  [2020.25, 5.0], [2020.28, 6.0], [2020.31, 5.6], [2020.35, 4.0], [2020.39, 2.8], [2020.43, 2.1],
  [2020.46, 2.0], [2020.5, 2.4], [2020.54, 3.1], [2020.57, 3.25], [2020.61, 2.8], [2020.65, 2.3],
  [2020.69, 2.1], [2020.73, 2.2], [2020.78, 3.0], [2020.83, 4.5], [2020.88, 6.0], [2020.93, 7.3],
  [2020.98, 8.0], [2021.02, 7.8], [2021.06, 6.6], [2021.1, 4.8], [2021.14, 3.3], [2021.18, 2.5],
  [2021.23, 2.1], [2021.28, 2.0], [2021.31, 2.03], [2021.34, 2.05],
];
const respFitted: Pt[] = [
  [2016.6, 0.98], [2016.8, 1.1], [2016.95, 1.4], [2017.05, 1.65], [2017.12, 1.75], [2017.2, 1.6],
  [2017.3, 1.35], [2017.45, 1.1], [2017.6, 0.98], [2017.75, 1.02], [2017.9, 1.2], [2018.0, 1.6],
  [2018.05, 1.95], [2018.1, 2.05], [2018.15, 1.85], [2018.22, 1.55], [2018.32, 1.3], [2018.45, 1.1],
  [2018.6, 0.96], [2018.75, 0.99], [2018.9, 1.15], [2019.0, 1.35], [2019.1, 1.45], [2019.18, 1.45],
  [2019.28, 1.33], [2019.45, 1.1], [2019.6, 0.96], [2019.75, 0.98], [2019.9, 1.15], [2020.0, 1.35],
  [2020.05, 1.45], [2020.12, 1.48], [2020.17, 1.5],
];
const respExpected = [
  0.98, 1.02, 1.17, 1.33, 1.4, 1.35, 1.21, 1.06, 0.98, 1.0, 1.13, 1.3, 1.4, 1.37, 1.23,
  1.07, 0.96, 0.97, 1.1, 1.28, 1.4, 1.37, 1.24, 1.08, 0.96, 0.96, 1.08, 1.24, 1.36, 1.35,
  1.22, 1.06, 0.93, 0.92, 1.03, 1.2, 1.31, 1.28, 1.2,
];
const respLower = [
  0.94, 0.98, 1.09, 1.32, 1.6, 1.42, 1.19, 1.03, 0.94, 0.96, 1.09, 1.4, 1.85, 1.42, 1.19,
  1.03, 0.92, 0.94, 1.06, 1.26, 1.36, 1.34, 1.22, 1.05, 0.92, 0.93, 1.05, 1.24, 1.33, 1.29,
  1.16, 1.01, 0.88, 0.87, 0.98, 1.14, 1.25, 1.22, 1.14,
];
const respUpper = [
  1.02, 1.08, 1.2, 1.48, 1.85, 1.6, 1.31, 1.13, 1.02, 1.05, 1.21, 1.6, 2.22, 1.6, 1.31,
  1.13, 1.02, 1.04, 1.18, 1.4, 1.53, 1.5, 1.34, 1.15, 1.0, 1.03, 1.17, 1.4, 1.58, 1.42,
  1.28, 1.11, 0.98, 0.97, 1.08, 1.26, 1.37, 1.34, 1.26,
];
const respTicks = [2, 4, 6, 8];

interface Panel {
  title: string;
  observed: Pt[];
  fitted: Pt[];
  expected: number[];
  lower: number[];
  upper: number[];
  ticks: number[];
  decimals: number;
  range: [number, number];
  jagged: boolean;
}

const panels: Panel[] = [
  { title: 'All-cause', observed: allCauseObserved, fitted: allCauseFitted, expected: allCauseExpected, lower: allCauseLower, upper: allCauseUpper, ticks: allCauseTicks, decimals: 0, range: [14.19, 26.23], jagged: false },
  { title: 'Alzheimers', observed: alzObserved, fitted: alzFitted, expected: alzExpected, lower: alzLower, upper: alzUpper, ticks: alzTicks, decimals: 1, range: [0.542, 0.96], jagged: false },
  { title: 'Cancer', observed: cancerObserved, fitted: cancerFitted, expected: cancerExpected, lower: cancerLower, upper: cancerUpper, ticks: cancerTicks, decimals: 1, range: [3.248, 3.707], jagged: true },
  { title: 'Cerebrovascular Diseases', observed: cerebroObserved, fitted: cerebroFitted, expected: cerebroExpected, lower: cerebroLower, upper: cerebroUpper, ticks: cerebroTicks, decimals: 2, range: [0.733, 1.0467], jagged: false },
  { title: 'Diabetes', observed: diabetesObserved, fitted: diabetesFitted, expected: diabetesExpected, lower: diabetesLower, upper: diabetesUpper, ticks: diabetesTicks, decimals: 1, range: [0.398, 0.726], jagged: false },
  { title: 'External Cause', observed: externalObserved, fitted: externalFitted, expected: externalExpected, lower: externalLower, upper: externalUpper, ticks: externalTicks, decimals: 1, range: [1.288, 1.8276], jagged: true },
  { title: 'Heart disease', observed: heartObserved, fitted: heartFitted, expected: heartExpected, lower: heartLower, upper: heartUpper, ticks: heartTicks, decimals: 1, range: [3.239, 4.82], jagged: false },
  { title: 'Respiratory Illnesses', observed: respObserved, fitted: respFitted, expected: respExpected, lower: respLower, upper: respUpper, ticks: respTicks, decimals: 0, range: [0.53, 8.38], jagged: false },
];

const FONT = "'Liberation Serif', 'Times New Roman', 'DejaVu Serif', serif";
const colLefts = [97, 561, 1025.5, 1501.3];
const rowTops = [43.3, 418.3];
const rowHeights = [275, 273.5];
const panelWidth = 402;
const titleYs = [22.8, 395];

const OBS_COLOR = '#000000';
const FIT_COLOR = '#dc6410';
const EXP_COLOR = '#1b9e77';
const BAND_FILL = 'rgba(217,95,2,0.38)';
const FRAME = '#333333';

export default function App() {
  const ref = useRef<HTMLDivElement>(null);

  useEffect(() => {
    document.body.style.margin = '0';
    const chart = echarts.init(ref.current as HTMLDivElement, null, { renderer: 'svg' });

    const grid: any[] = [];
    const xAxis: any[] = [];
    const yAxis: any[] = [];
    const series: any[] = [];
    const graphic: any[] = [];

    panels.forEach((p, i) => {
      const col = i % 4;
      const row = Math.floor(i / 4);
      const left = colLefts[col];
      const top = rowTops[row];
      const height = rowHeights[row];

      grid.push({ left, top, width: panelWidth, height, show: true, borderColor: FRAME, borderWidth: 1.3, backgroundColor: '#ffffff', z: 0 });

      xAxis.push({
        type: 'value',
        gridIndex: i,
        min: yearMin,
        max: yearMax,
        splitLine: { show: false },
        axisLine: { show: false },
        axisTick: { show: true, length: 6, lineStyle: { color: FRAME, width: 1.3 }, customValues: yearTicks },
        axisLabel: {
          customValues: yearTicks,
          formatter: (v: number) => String(Math.round(v)),
          color: '#4d4d4d',
          fontSize: 23,
          fontFamily: FONT,
          margin: 11,
        },
      });

      yAxis.push({
        type: 'value',
        gridIndex: i,
        min: p.range[0],
        max: p.range[1],
        splitLine: { show: false },
        axisLine: { show: false },
        axisTick: { show: true, length: 6, lineStyle: { color: FRAME, width: 1.3 }, customValues: p.ticks },
        axisLabel: {
          customValues: p.ticks,
          formatter: (v: number) => v.toFixed(p.decimals),
          color: '#4d4d4d',
          fontSize: 23,
          fontFamily: FONT,
          margin: 13,
        },
      });

      // observed weekly mortality (drawn first so the band tints it)
      series.push({
        type: 'line',
        xAxisIndex: i,
        yAxisIndex: i,
        data: p.observed,
        showSymbol: false,
        smooth: p.jagged ? false : 0.3,
        smoothMonotone: 'x',
        lineStyle: { color: OBS_COLOR, width: 1.6 },
        silent: true,
        z: 1,
      });

      // interval band around the model
      series.push({
        type: 'custom',
        xAxisIndex: i,
        yAxisIndex: i,
        silent: true,
        data: [[seasonYears[0], p.lower[0]]],
        renderItem: (_params: any, api: any) => {
          const upperPts = seasonYears.map((t, k) => api.coord([t, p.upper[k]]));
          const lowerPts = seasonYears.map((t, k) => api.coord([t, p.lower[k]])).reverse();
          return {
            type: 'polygon',
            shape: { points: upperPts.concat(lowerPts), smooth: 0.3 },
            style: { fill: BAND_FILL, stroke: 'none' },
          };
        },
        z: 2,
      });

      // model fit over the pre-pandemic period
      if (p.fitted.length) {
        series.push({
          type: 'line',
          xAxisIndex: i,
          yAxisIndex: i,
          data: p.fitted,
          showSymbol: false,
          smooth: 0.3,
          smoothMonotone: 'x',
          lineStyle: { color: FIT_COLOR, width: 3.2 },
          silent: true,
          z: 3,
        });
      }

      // seasonal expectation
      series.push({
        type: 'line',
        xAxisIndex: i,
        yAxisIndex: i,
        data: seasonYears.map((t, k) => [t, p.expected[k]]),
        showSymbol: false,
        smooth: 0.5,
        lineStyle: { color: EXP_COLOR, width: 3.2 },
        silent: true,
        z: 4,
        markLine: {
          silent: true,
          symbol: ['none', 'none'],
          label: { show: false },
          lineStyle: { color: '#444444', width: 2.4, type: [2.5, 4.8] },
          emphasis: { disabled: true },
          data: [{ xAxis: pandemicStart }],
        },
      });

      graphic.push({
        type: 'text',
        x: left + panelWidth / 2,
        y: titleYs[row],
        style: {
          text: p.title,
          fontSize: 23,
          fontFamily: FONT,
          fill: '#1a1a1a',
          textAlign: 'center',
          textVerticalAlign: 'middle',
          align: 'center',
          verticalAlign: 'middle',
        },
      });
    });

    graphic.push({
      type: 'text',
      x: 1000,
      y: 747,
      style: {
        text: 'Year',
        fontSize: 31,
        fontFamily: FONT,
        fill: '#000000',
        textAlign: 'center',
        textVerticalAlign: 'middle',
        align: 'center',
        verticalAlign: 'middle',
      },
    });
    graphic.push({
      type: 'text',
      x: 25,
      y: 356,
      rotation: Math.PI / 2,
      scaleX: 1.06,
      style: {
        text: 'Mortality per 100,000',
        fontSize: 32,
        fontFamily: FONT,
        fill: '#000000',
        textAlign: 'center',
        textVerticalAlign: 'middle',
        align: 'center',
        verticalAlign: 'middle',
      },
    });

    chart.setOption({
      animation: false,
      backgroundColor: '#ffffff',
      grid,
      xAxis,
      yAxis,
      series,
      graphic,
    });

    return () => chart.dispose();
  }, []);

  return <div ref={ref} style={{ width: 1911, height: 763 }} />;
}
